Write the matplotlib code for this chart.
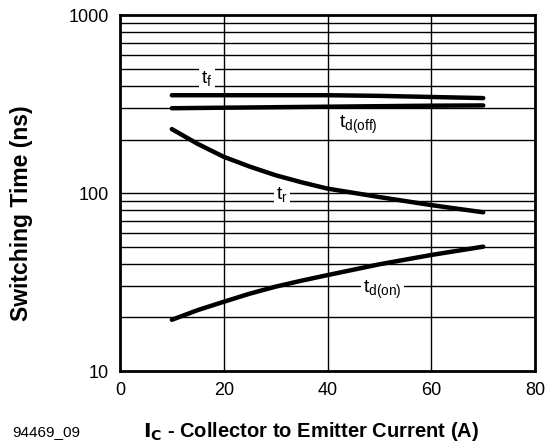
import matplotlib.pyplot as plt
import numpy as np

# Switching time vs collector current
ic = [10, 15, 20, 25, 30, 35, 40, 50, 60, 70]
t_f = [355, 355, 355, 355, 355, 355, 355, 352, 347, 342]
t_doff = [300, 301, 302, 303, 304, 305, 306, 308, 310, 311]
t_r = [229, 189, 160, 141, 126, 115, 106, 95, 85.6, 78]
t_don = [19.4, 22.0, 24.5, 27.2, 29.8, 32.2, 34.6, 39.8, 44.9, 50]

x_ticks = [0, 20, 40, 60, 80]
y_ticks = [10, 100, 1000]

plt.rcParams['font.family'] = ['Liberation Sans', 'DejaVu Sans']

fig = plt.figure(figsize=(5.5, 4.47), dpi=100)
ax = fig.add_axes([0.218, 0.170, 0.755, 0.796])

ax.set_yscale('log')
ax.set_xlim(0, 80)
ax.set_ylim(10, 1000)

# grid: vertical at 20/40/60, horizontal at every minor decade step
for xv in [20, 40, 60]:
    ax.axvline(xv, color='black', lw=1.0, zorder=1)
for dec in [10, 100]:
    for m in range(1, 10):
        yv = dec * m
        if 10 < yv < 1000:
            ax.axhline(yv, color='black', lw=1.0, zorder=1)

for y in [t_f, t_doff, t_r, t_don]:
    ax.plot(ic, y, color='black', lw=3.2, solid_capstyle='round',
            solid_joinstyle='round', zorder=3)

box = dict(facecolor='white', edgecolor='none', pad=1.5)
ax.text(16.8, 443, r'$\mathregular{t_f}$', fontsize=14, ha='center', va='center', bbox=box, zorder=4)
ax.text(46, 243, r'$\mathregular{t_{d(off)}}$', fontsize=14, ha='center', va='center', zorder=4)
ax.text(31.2, 98, r'$\mathregular{t_r}$', fontsize=14, ha='center', va='center', bbox=box, zorder=4)
ax.text(50.5, 28.5, r'$\mathregular{t_{d(on)}}$', fontsize=14, ha='center', va='center', bbox=box, zorder=4)

ax.set_xticks(x_ticks)
ax.set_xticklabels([str(v) for v in x_ticks])
ax.set_yticks(y_ticks)
ax.set_yticklabels([str(v) for v in y_ticks])
ax.yaxis.set_minor_locator(plt.NullLocator())
ax.tick_params(length=0, labelsize=13, pad=8)

for s in ax.spines.values():
    s.set_linewidth(2.0)

fig.text(0.04, 0.523, 'Switching Time (ns)', fontsize=16.5, fontweight='bold',
         rotation=90, ha='center', va='center')
fig.text(0.566, 0.034, r'$\mathbf{I_C}$ - Collector to Emitter Current (A)', fontsize=14.5,
         fontweight='bold', ha='center', va='center')
fig.text(0.022, 0.034, '94469_09', fontsize=11, ha='left', va='center')

plt.savefig('out.png', dpi=100)
